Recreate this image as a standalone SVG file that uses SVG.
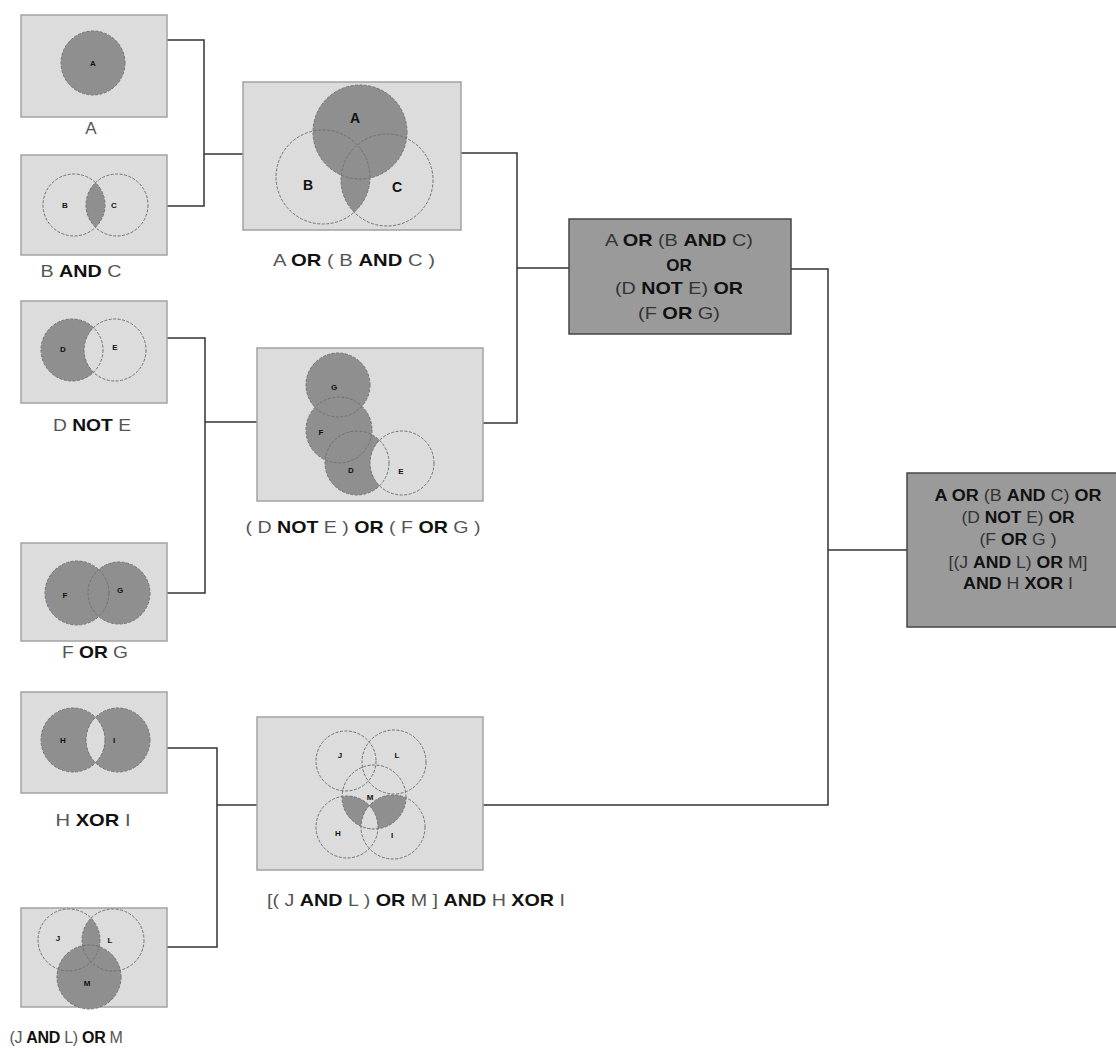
<svg xmlns="http://www.w3.org/2000/svg" width="1116" height="1052" viewBox="0 0 1116 1052">
<style>
.box{fill:#dcdcdc;stroke:#a3a3a3;stroke-width:1.5}
.res{fill:#9a9a9a;stroke:#454545;stroke-width:1.5}
.sh{fill:#8f8f8f}
.bg{fill:#dcdcdc}
.ol{fill:none;stroke:#727272;stroke-width:1;stroke-dasharray:3 1.5}
.con{fill:none;stroke:#333;stroke-width:1.5}
.lbl{font-family:"Liberation Sans",Arial,sans-serif;font-size:17px;fill:#555;text-anchor:middle}
.rt{font-family:"Liberation Sans",Arial,sans-serif;font-size:17px;fill:#333;text-anchor:middle}
.ft{font-family:"Liberation Sans",Arial,sans-serif;font-size:16px;fill:#333;text-anchor:middle}
.b{font-weight:bold;fill:#111}
.v{font-family:"Liberation Sans",Arial,sans-serif;font-weight:bold;font-size:8px;fill:#111;text-anchor:middle}
.vb{font-family:"Liberation Sans",Arial,sans-serif;font-weight:bold;font-size:14px;fill:#111;text-anchor:middle}
</style>
<defs>
<clipPath id="cC1"><circle cx="117" cy="205" r="31"/></clipPath>
<clipPath id="cC2"><circle cx="387" cy="180" r="46"/></clipPath>
<clipPath id="cI1"><circle cx="118" cy="740" r="32"/></clipPath>
<clipPath id="cL1"><circle cx="113" cy="940" r="31"/></clipPath>
<clipPath id="cM2"><circle cx="374" cy="797" r="32"/></clipPath>
<clipPath id="cI2"><circle cx="393" cy="827" r="32"/></clipPath>
</defs>

<g id="connectors">
<polyline class="con" points="167,40 204,40 204,206 165,206"/>
<line class="con" x1="204" y1="154" x2="243" y2="154"/>
<polyline class="con" points="461,153 517,153 517,423 483,423"/>
<line class="con" x1="517" y1="268" x2="569" y2="268"/>
<polyline class="con" points="167,338 205,338 205,593 167,593"/>
<line class="con" x1="205" y1="422" x2="257" y2="422"/>
<polyline class="con" points="167,748 217,748 217,947 165,947"/>
<line class="con" x1="217" y1="805" x2="257" y2="805"/>
<polyline class="con" points="483,805 828,805 828,269 791,269"/>
<line class="con" x1="828" y1="550" x2="907" y2="550"/>
</g>

<g id="nodeA">
<rect class="box" x="21" y="15" width="146" height="102"/>
<circle class="sh" cx="93" cy="63" r="32"/>
<circle class="ol" cx="93" cy="63" r="32"/>
<text class="v" x="93" y="66">A</text>
<text class="lbl" x="91" y="134">A</text>
</g>

<g id="nodeBandC">
<rect class="box" x="21" y="155" width="146" height="100"/>
<circle class="sh" cx="74" cy="205" r="31" clip-path="url(#cC1)"/>
<circle class="ol" cx="74" cy="205" r="31"/>
<circle class="ol" cx="117" cy="205" r="31"/>
<text class="v" x="65" y="208">B</text>
<text class="v" x="114" y="208">C</text>
<text class="lbl" x="81" y="277" textLength="81" lengthAdjust="spacingAndGlyphs">B <tspan class="b">AND</tspan> C</text>
</g>

<g id="nodeAorBC">
<rect class="box" x="243" y="82" width="218" height="148"/>
<circle class="sh" cx="323" cy="177" r="47" clip-path="url(#cC2)"/>
<circle class="sh" cx="360" cy="132" r="47"/>
<circle class="ol" cx="360" cy="132" r="47"/>
<circle class="ol" cx="323" cy="177" r="47"/>
<circle class="ol" cx="387" cy="180" r="46"/>
<text class="vb" x="355" y="123">A</text>
<text class="vb" x="308" y="190">B</text>
<text class="vb" x="397" y="192">C</text>
<text class="lbl" x="354" y="266" textLength="162" lengthAdjust="spacingAndGlyphs">A <tspan class="b">OR</tspan> ( B <tspan class="b">AND</tspan> C )</text>
</g>

<g id="nodeDnotE">
<rect class="box" x="21" y="301" width="146" height="102"/>
<circle class="sh" cx="72" cy="350" r="31"/>
<circle class="bg" cx="115" cy="350" r="31"/>
<circle class="ol" cx="72" cy="350" r="31"/>
<circle class="ol" cx="115" cy="350" r="31"/>
<text class="v" x="63" y="352">D</text>
<text class="v" x="115" y="350">E</text>
<text class="lbl" x="92" y="431" textLength="78" lengthAdjust="spacingAndGlyphs">D <tspan class="b">NOT</tspan> E</text>
</g>

<g id="nodeForG">
<rect class="box" x="21" y="543" width="146" height="98"/>
<circle class="sh" cx="77" cy="593" r="32"/>
<circle class="sh" cx="119" cy="593" r="31"/>
<circle class="ol" cx="77" cy="593" r="32"/>
<circle class="ol" cx="119" cy="593" r="31"/>
<text class="v" x="65" y="598">F</text>
<text class="v" x="120" y="593">G</text>
<text class="lbl" x="95" y="658" textLength="66" lengthAdjust="spacingAndGlyphs">F <tspan class="b">OR</tspan> G</text>
</g>

<g id="nodeDEFG">
<rect class="box" x="257" y="348" width="226" height="153"/>
<circle class="sh" cx="338" cy="385" r="32"/>
<circle class="sh" cx="339" cy="430" r="33"/>
<circle class="sh" cx="357" cy="463" r="32"/>
<circle class="bg" cx="402" cy="463" r="32"/>
<circle class="ol" cx="338" cy="385" r="32"/>
<circle class="ol" cx="339" cy="430" r="33"/>
<circle class="ol" cx="357" cy="463" r="32"/>
<circle class="ol" cx="402" cy="463" r="32"/>
<text class="v" x="334" y="390">G</text>
<text class="v" x="321" y="435">F</text>
<text class="v" x="351" y="473">D</text>
<text class="v" x="401" y="474">E</text>
<text class="lbl" x="363" y="533" textLength="235" lengthAdjust="spacingAndGlyphs">( D <tspan class="b">NOT</tspan> E ) <tspan class="b">OR</tspan> ( F <tspan class="b">OR</tspan> G )</text>
</g>

<g id="nodeHxorI">
<rect class="box" x="21" y="692" width="146" height="101"/>
<circle class="sh" cx="73" cy="740" r="32"/>
<circle class="sh" cx="118" cy="740" r="32"/>
<circle class="bg" cx="73" cy="740" r="32" clip-path="url(#cI1)"/>
<circle class="ol" cx="73" cy="740" r="32"/>
<circle class="ol" cx="118" cy="740" r="32"/>
<text class="v" x="63" y="743">H</text>
<text class="v" x="114" y="743">I</text>
<text class="lbl" x="93" y="826" textLength="75" lengthAdjust="spacingAndGlyphs">H <tspan class="b">XOR</tspan> I</text>
</g>

<g id="nodeJLM">
<rect class="box" x="21" y="908" width="146" height="99"/>
<circle class="sh" cx="69" cy="940" r="31" clip-path="url(#cL1)"/>
<circle class="sh" cx="89" cy="977" r="32"/>
<circle class="ol" cx="69" cy="940" r="31"/>
<circle class="ol" cx="113" cy="940" r="31"/>
<circle class="ol" cx="89" cy="977" r="32"/>
<text class="v" x="58" y="941">J</text>
<text class="v" x="110" y="943">L</text>
<text class="v" x="87" y="986">M</text>
<text class="lbl" x="66" y="1043" style="font-size:16px;letter-spacing:-0.3px">(J <tspan class="b">AND</tspan> L) <tspan class="b">OR</tspan> M</text>
</g>

<g id="nodeJLMHI">
<rect class="box" x="257" y="717" width="226" height="153"/>
<g clip-path="url(#cM2)">
<circle class="sh" cx="347" cy="827" r="31"/>
<circle class="sh" cx="393" cy="827" r="32"/>
<circle class="bg" cx="347" cy="827" r="31" clip-path="url(#cI2)"/>
</g>
<circle class="ol" cx="346" cy="761" r="30"/>
<circle class="ol" cx="394" cy="762" r="32"/>
<circle class="ol" cx="374" cy="797" r="32"/>
<circle class="ol" cx="347" cy="827" r="31"/>
<circle class="ol" cx="393" cy="827" r="32"/>
<text class="v" x="340" y="758">J</text>
<text class="v" x="397" y="758">L</text>
<text class="v" x="370" y="800">M</text>
<text class="v" x="338" y="836">H</text>
<text class="v" x="392" y="838">I</text>
<text class="lbl" x="416" y="906" textLength="298" lengthAdjust="spacingAndGlyphs">[( J <tspan class="b">AND</tspan> L ) <tspan class="b">OR</tspan> M ] <tspan class="b">AND</tspan> H <tspan class="b">XOR</tspan> I</text>
</g>

<g id="nodeResult1">
<rect class="res" x="569" y="219" width="222" height="115"/>
<text class="rt" x="679" y="246" textLength="148" lengthAdjust="spacingAndGlyphs">A <tspan class="b">OR</tspan> (B <tspan class="b">AND</tspan> C)</text>
<text class="rt" x="679" y="271"><tspan class="b">OR</tspan></text>
<text class="rt" x="679" y="294" textLength="128" lengthAdjust="spacingAndGlyphs">(D <tspan class="b">NOT</tspan> E) <tspan class="b">OR</tspan></text>
<text class="rt" x="679" y="319" textLength="82" lengthAdjust="spacingAndGlyphs">(F <tspan class="b">OR</tspan> G)</text>
</g>

<g id="nodeFinal">
<rect class="res" x="907" y="473" width="215" height="154"/>
<text class="ft" x="1018" y="501" textLength="167" lengthAdjust="spacingAndGlyphs"><tspan class="b">A OR</tspan> (B <tspan class="b">AND</tspan> C) <tspan class="b">OR</tspan></text>
<text class="ft" x="1018" y="523" textLength="113" lengthAdjust="spacingAndGlyphs">(D <tspan class="b">NOT</tspan> E) <tspan class="b">OR</tspan></text>
<text class="ft" x="1018" y="545" textLength="77" lengthAdjust="spacingAndGlyphs">(F <tspan class="b">OR</tspan> G )</text>
<text class="ft" x="1018" y="568" textLength="139" lengthAdjust="spacingAndGlyphs">[(J <tspan class="b">AND</tspan> L) <tspan class="b">OR</tspan> M]</text>
<text class="ft" x="1018" y="589" textLength="110" lengthAdjust="spacingAndGlyphs"><tspan class="b">AND</tspan> H <tspan class="b">XOR</tspan> I</text>
</g>
</svg>
